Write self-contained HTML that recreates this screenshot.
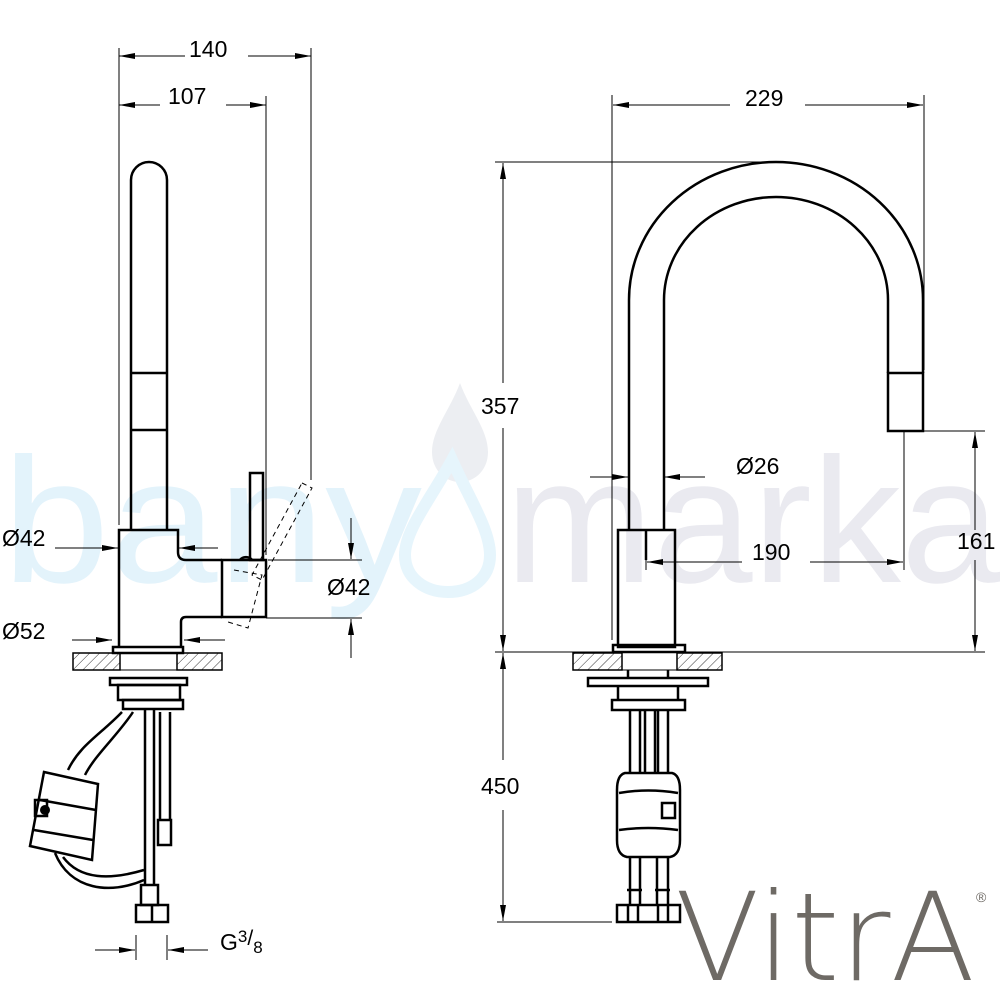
<!DOCTYPE html>
<html><head><meta charset="utf-8"><style>
html,body{margin:0;padding:0;background:#fff;}
svg{display:block;}
text{font-family:"Liberation Sans",sans-serif;}
</style></head><body>
<svg width="1000" height="1000" viewBox="0 0 1000 1000" xmlns="http://www.w3.org/2000/svg">
<defs>
<pattern id="h" width="7" height="7" patternUnits="userSpaceOnUse" patternTransform="rotate(45)">
<line x1="0" y1="0" x2="0" y2="7" stroke="#000" stroke-width="0.8"/>
</pattern>
<marker id="a" markerWidth="16" markerHeight="8" refX="16" refY="4" orient="auto" markerUnits="userSpaceOnUse">
<path d="M0,1 L16,4 L0,7 Z" fill="#000"/>
</marker>
</defs>

<text x="2" y="582" font-size="178" fill="#e3f3fb" textLength="420" lengthAdjust="spacingAndGlyphs">bany</text>
<path d="M460,383 C450,410 432,430 432,452 C432,470 445,482 460,482 C475,482 488,470 488,452 C488,430 470,410 460,383Z" fill="#eceef2"/>
<path d="M452,460 C430,500 405,530 405,555 C405,578 425,592 448,592 C472,592 490,578 490,555 C490,530 470,500 452,460Z" fill="none" stroke="#e6f5fc" stroke-width="12"/>
<text x="505" y="582" font-size="178" fill="#eaeaf0" textLength="495" lengthAdjust="spacingAndGlyphs">marka</text>

<g fill="none" stroke="#000" stroke-width="1">
<line x1="119" y1="48" x2="119" y2="525"/>
<line x1="311" y1="48" x2="311" y2="480"/>
<line x1="266" y1="96" x2="266" y2="555"/>
<line x1="185" y1="56" x2="119" y2="56" marker-end="url(#a)"/>
<line x1="248" y1="56" x2="311" y2="56" marker-end="url(#a)"/>
<line x1="160" y1="105" x2="119" y2="105" marker-end="url(#a)"/>
<line x1="226" y1="105" x2="266" y2="105" marker-end="url(#a)"/>
<line x1="55" y1="548" x2="118" y2="548" marker-end="url(#a)"/>
<line x1="218" y1="548" x2="179" y2="548" marker-end="url(#a)"/>
<line x1="72" y1="640" x2="112" y2="640" marker-end="url(#a)"/>
<line x1="225" y1="640" x2="184" y2="640" marker-end="url(#a)"/>
<line x1="268" y1="560" x2="362" y2="560"/>
<line x1="266" y1="618" x2="362" y2="618"/>
<line x1="351" y1="518" x2="351" y2="559" marker-end="url(#a)"/>
<line x1="351" y1="658" x2="351" y2="619" marker-end="url(#a)"/>
<line x1="136" y1="935" x2="136" y2="960"/>
<line x1="167" y1="935" x2="167" y2="960"/>
<line x1="95" y1="950" x2="135" y2="950" marker-end="url(#a)"/>
<line x1="208" y1="950" x2="168" y2="950" marker-end="url(#a)"/>
</g>
<g font-size="23" fill="#000">
<text x="189" y="57">140</text>
<text x="168" y="104">107</text>
<text x="2" y="546">Ø42</text>
<text x="2" y="639">Ø52</text>
<text x="327" y="595">Ø42</text>
<text x="220" y="950">G<tspan font-size="17" dy="-8">3</tspan><tspan font-size="21" dy="3">/</tspan><tspan font-size="17" dy="8">8</tspan></text>
</g>

<g fill="none" stroke="#000" stroke-width="2.5">
<path d="M131,530 L131,180 A18,18 0 0 1 167,180 L167,530"/>
<line x1="131" y1="373" x2="167" y2="373"/>
<line x1="131" y1="430" x2="167" y2="430"/>
<path d="M119,647 L119,530 L178,530 L178,552 Q178,560 186,560 L222,560"/>
<path d="M222,617 L186,617 Q181,617 181,622 L181,647"/>
<rect x="222" y="560" width="44" height="57"/>
<rect x="250" y="473" width="13" height="87"/>
<path d="M240,560 A7,6 0 0 1 252,560"/>
<rect x="113" y="647" width="70" height="6"/>
<rect x="110" y="678" width="77" height="7"/>
<rect x="118" y="685" width="62" height="15"/>
<rect x="123" y="700" width="60" height="9"/>
<path d="M145,709 L145,885 M154,709 L154,885"/>
<path d="M160,712 L160,820 M170,712 L170,820"/>
<rect x="158" y="820" width="13" height="25"/>
<rect x="141" y="885" width="17" height="20"/>
<rect x="136" y="905" width="32" height="17"/>
<line x1="152" y1="905" x2="152" y2="922"/>
<path d="M122,712 C100,735 80,745 68,770 M133,712 C118,735 95,755 85,775"/>
<path d="M44,772 L98,784 L92,860 L30,846 Z"/>
<line x1="40" y1="800" x2="96" y2="810"/>
<line x1="34" y1="830" x2="93" y2="840"/>
<rect x="35" y="800" width="12" height="16"/>
<path d="M55,853 C70,890 110,895 144,880 M63,857 C80,880 110,880 144,870"/>
</g>
<circle cx="45" cy="810" r="5" fill="#000"/>
<g stroke="#000" stroke-width="1" fill="none" stroke-dasharray="5,4">
<path d="M302,483 L312,488 L262,580 L252,575 Z"/>
<path d="M234,570 L262,575 L248,628 L228,622"/>
</g>
<rect x="73" y="653" width="47" height="17" fill="url(#h)" stroke="#000" stroke-width="1.5"/>
<rect x="177" y="653" width="45" height="17" fill="url(#h)" stroke="#000" stroke-width="1.5"/>
<line x1="120" y1="653" x2="177" y2="653" stroke="#000"/>
<line x1="120" y1="670" x2="177" y2="670" stroke="#000"/>

<g fill="none" stroke="#000" stroke-width="1">
<line x1="612" y1="95" x2="612" y2="640"/>
<line x1="924" y1="95" x2="924" y2="370"/>
<line x1="730" y1="105" x2="613" y2="105" marker-end="url(#a)"/>
<line x1="805" y1="105" x2="923" y2="105" marker-end="url(#a)"/>
<line x1="495" y1="162" x2="780" y2="162"/>
<line x1="503" y1="383" x2="503" y2="163" marker-end="url(#a)"/>
<line x1="503" y1="428" x2="503" y2="651" marker-end="url(#a)"/>
<line x1="503" y1="760" x2="503" y2="653" marker-end="url(#a)"/>
<line x1="503" y1="810" x2="503" y2="921" marker-end="url(#a)"/>
<line x1="495" y1="652" x2="985" y2="652"/>
<line x1="497" y1="922" x2="612" y2="922"/>
<line x1="590" y1="477" x2="628" y2="477" marker-end="url(#a)"/>
<line x1="705" y1="477" x2="664" y2="477" marker-end="url(#a)"/>
<line x1="922" y1="431" x2="985" y2="431"/>
<line x1="975" y1="530" x2="975" y2="432" marker-end="url(#a)"/>
<line x1="975" y1="560" x2="975" y2="651" marker-end="url(#a)"/>
<line x1="904" y1="432" x2="904" y2="570"/>
<line x1="646" y1="530" x2="646" y2="570"/>
<line x1="742" y1="562" x2="647" y2="562" marker-end="url(#a)"/>
<line x1="810" y1="562" x2="903" y2="562" marker-end="url(#a)"/>
</g>
<g font-size="23" fill="#000">
<text x="745" y="106">229</text>
<text x="481" y="414">357</text>
<text x="736" y="474">Ø26</text>
<text x="752" y="560">190</text>
<text x="957" y="549">161</text>
<text x="481" y="794">450</text>
</g>

<g fill="none" stroke="#000" stroke-width="2.5">
<path d="M629,530 L629,300 A147,138 0 0 1 923,300 L923,373"/>
<path d="M664,530 L664,300 A112,103 0 0 1 888,300 L888,373"/>
<rect x="888" y="373" width="35" height="58"/>
<rect x="618" y="530" width="57" height="117"/>
<line x1="646" y1="530" x2="646" y2="560"/>
<rect x="613" y="645" width="72" height="7"/>
<rect x="588" y="678" width="120" height="8"/>
<path d="M618,686 L618,700 M678,686 L678,700"/>
<rect x="612" y="700" width="73" height="10"/>
<path d="M628,670 L628,678 M668,670 L668,678"/>
<path d="M630,710 L630,773 M640,710 L640,773 M645,710 L645,773 M655,710 L655,773 M658,710 L658,773 M668,710 L668,773"/>
<path d="M625,773 L672,773 Q680,775 680,790 L680,840 Q680,855 670,857 L627,857 Q617,855 617,840 L617,790 Q617,775 625,773Z"/>
<path d="M619,793 Q648,788 678,793 M619,830 Q648,826 678,830"/>
<rect x="662" y="803" width="13" height="15"/>
<path d="M630,857 L630,905 M640,857 L640,905 M657,857 L657,905 M668,857 L668,905"/>
<path d="M627,890 L642,890 M655,890 L670,890"/>
<rect x="617" y="905" width="63" height="17"/>
<path d="M628,905 L628,922 M638,905 L638,922 M658,905 L658,922 M668,905 L668,922"/>
</g>
<rect x="573" y="653" width="49" height="17" fill="url(#h)" stroke="#000" stroke-width="1.5"/>
<rect x="677" y="653" width="45" height="17" fill="url(#h)" stroke="#000" stroke-width="1.5"/>
<line x1="622" y1="670" x2="677" y2="670" stroke="#000"/>

<text x="675" y="980" font-size="122" font-weight="200" fill="#6e6a65" textLength="300" lengthAdjust="spacingAndGlyphs" style='font-family:"DejaVu Sans","Liberation Sans",sans-serif'>VitrA</text>
<text x="976" y="902" font-size="14" fill="#6e6a65">®</text>
</svg>
</body></html>
